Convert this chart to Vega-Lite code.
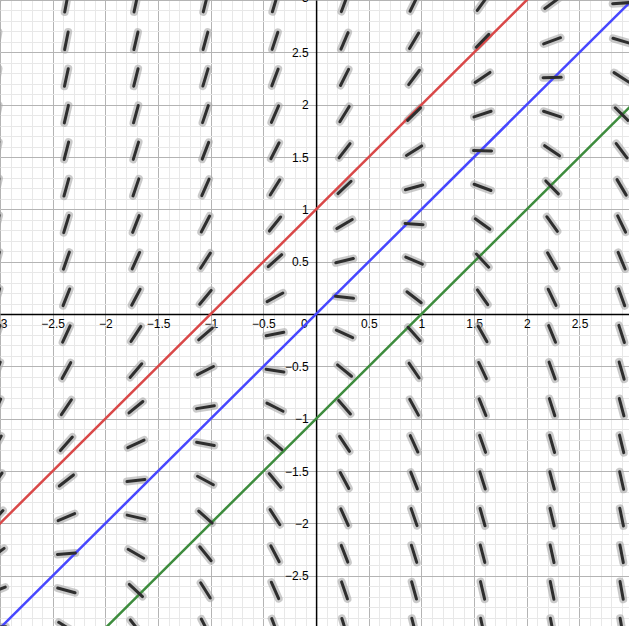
{
  "$schema": "https://vega.github.io/schema/vega-lite/v6.json",
  "width": 629,
  "height": 626,
  "padding": 0,
  "autosize": {"type": "none"},
  "background": "white",
  "config": {"view": {"stroke": null}, "font": "Liberation Sans"},
  "datasets": {
    "field": [
      {"x":-3.03,"y":2.97,"dir":80.5},{"x":-3.03,"y":2.61,"dir":79.9},{"x":-3.03,"y":2.26,"dir":79.3},{"x":-3.03,"y":1.91,"dir":78.6},{"x":-3.03,"y":1.56,"dir":77.7},{"x":-3.03,"y":1.21,"dir":76.7},{"x":-3.03,"y":0.86,"dir":75.6},{"x":-3.03,"y":0.51,"dir":74.2},{"x":-3.03,"y":0.16,"dir":72.6},{"x":-3.03,"y":-0.19,"dir":70.6},{"x":-3.03,"y":-0.54,"dir":68.1},{"x":-3.03,"y":-0.89,"dir":65.0},{"x":-3.03,"y":-1.24,"dir":60.8},{"x":-3.03,"y":-1.59,"dir":55.2},{"x":-3.03,"y":-1.94,"dir":47.5},{"x":-3.03,"y":-2.29,"dir":36.5},{"x":-3.03,"y":-2.64,"dir":21.3},{"x":-3.03,"y":-2.99,"dir":2.3},
      {"x":-2.37,"y":2.97,"dir":79.4},{"x":-2.37,"y":2.61,"dir":78.7},{"x":-2.37,"y":2.26,"dir":77.8},{"x":-2.37,"y":1.91,"dir":76.8},{"x":-2.37,"y":1.56,"dir":75.7},{"x":-2.37,"y":1.21,"dir":74.4},{"x":-2.37,"y":0.86,"dir":72.8},{"x":-2.37,"y":0.51,"dir":70.8},{"x":-2.37,"y":0.16,"dir":68.4},{"x":-2.37,"y":-0.19,"dir":65.4},{"x":-2.37,"y":-0.54,"dir":61.3},{"x":-2.37,"y":-0.89,"dir":56.0},{"x":-2.37,"y":-1.24,"dir":48.5},{"x":-2.37,"y":-1.59,"dir":38.0},{"x":-2.37,"y":-1.94,"dir":23.3},{"x":-2.37,"y":-2.29,"dir":4.6},{"x":-2.37,"y":-2.64,"dir":-15.1},{"x":-2.37,"y":-2.99,"dir":-31.8},
      {"x":-1.71,"y":2.97,"dir":77.9},{"x":-1.71,"y":2.61,"dir":77.0},{"x":-1.71,"y":2.26,"dir":75.9},{"x":-1.71,"y":1.91,"dir":74.6},{"x":-1.71,"y":1.56,"dir":73.0},{"x":-1.71,"y":1.21,"dir":71.1},{"x":-1.71,"y":0.86,"dir":68.7},{"x":-1.71,"y":0.51,"dir":65.8},{"x":-1.71,"y":0.16,"dir":61.9},{"x":-1.71,"y":-0.19,"dir":56.7},{"x":-1.71,"y":-0.54,"dir":49.5},{"x":-1.71,"y":-0.89,"dir":39.4},{"x":-1.71,"y":-1.24,"dir":25.2},{"x":-1.71,"y":-1.59,"dir":6.8},{"x":-1.71,"y":-1.94,"dir":-13.0},{"x":-1.71,"y":-2.29,"dir":-30.1},{"x":-1.71,"y":-2.64,"dir":-42.9},{"x":-1.71,"y":-2.99,"dir":-52.0},
      {"x":-1.05,"y":2.97,"dir":76.0},{"x":-1.05,"y":2.61,"dir":74.7},{"x":-1.05,"y":2.26,"dir":73.2},{"x":-1.05,"y":1.91,"dir":71.3},{"x":-1.05,"y":1.56,"dir":69.0},{"x":-1.05,"y":1.21,"dir":66.1},{"x":-1.05,"y":0.86,"dir":62.4},{"x":-1.05,"y":0.51,"dir":57.3},{"x":-1.05,"y":0.16,"dir":50.4},{"x":-1.05,"y":-0.19,"dir":40.7},{"x":-1.05,"y":-0.54,"dir":27.0},{"x":-1.05,"y":-0.89,"dir":9.1},{"x":-1.05,"y":-1.24,"dir":-10.8},{"x":-1.05,"y":-1.59,"dir":-28.4},{"x":-1.05,"y":-1.94,"dir":-41.7},{"x":-1.05,"y":-2.29,"dir":-51.1},{"x":-1.05,"y":-2.64,"dir":-57.8},{"x":-1.05,"y":-2.99,"dir":-62.7},
      {"x":-0.39,"y":2.97,"dir":73.4},{"x":-0.39,"y":2.61,"dir":71.6},{"x":-0.39,"y":2.26,"dir":69.3},{"x":-0.39,"y":1.91,"dir":66.5},{"x":-0.39,"y":1.56,"dir":62.9},{"x":-0.39,"y":1.21,"dir":58.0},{"x":-0.39,"y":0.86,"dir":51.3},{"x":-0.39,"y":0.51,"dir":42.0},{"x":-0.39,"y":0.16,"dir":28.8},{"x":-0.39,"y":-0.19,"dir":11.3},{"x":-0.39,"y":-0.54,"dir":-8.5},{"x":-0.39,"y":-0.89,"dir":-26.6},{"x":-0.39,"y":-1.24,"dir":-40.4},{"x":-0.39,"y":-1.59,"dir":-50.2},{"x":-0.39,"y":-1.94,"dir":-57.2},{"x":-0.39,"y":-2.29,"dir":-62.2},{"x":-0.39,"y":-2.64,"dir":-66.0},{"x":-0.39,"y":-2.99,"dir":-69.0},
      {"x":0.27,"y":2.97,"dir":69.7},{"x":0.27,"y":2.61,"dir":66.9},{"x":0.27,"y":2.26,"dir":63.3},{"x":0.27,"y":1.91,"dir":58.6},{"x":0.27,"y":1.56,"dir":52.2},{"x":0.27,"y":1.21,"dir":43.2},{"x":0.27,"y":0.86,"dir":30.5},{"x":0.27,"y":0.51,"dir":13.5},{"x":0.27,"y":0.16,"dir":-6.3},{"x":0.27,"y":-0.19,"dir":-24.7},{"x":0.27,"y":-0.54,"dir":-39.0},{"x":0.27,"y":-0.89,"dir":-49.2},{"x":0.27,"y":-1.24,"dir":-56.5},{"x":0.27,"y":-1.59,"dir":-61.7},{"x":0.27,"y":-1.94,"dir":-65.7},{"x":0.27,"y":-2.29,"dir":-68.7},{"x":0.27,"y":-2.64,"dir":-71.0},{"x":0.27,"y":-2.99,"dir":-72.9},
      {"x":0.93,"y":2.97,"dir":63.9},{"x":0.93,"y":2.61,"dir":59.2},{"x":0.93,"y":2.26,"dir":53.1},{"x":0.93,"y":1.91,"dir":44.4},{"x":0.93,"y":1.56,"dir":32.2},{"x":0.93,"y":1.21,"dir":15.6},{"x":0.93,"y":0.86,"dir":-4.0},{"x":0.93,"y":0.51,"dir":-22.8},{"x":0.93,"y":0.16,"dir":-37.6},{"x":0.93,"y":-0.19,"dir":-48.2},{"x":0.93,"y":-0.54,"dir":-55.8},{"x":0.93,"y":-0.89,"dir":-61.2},{"x":0.93,"y":-1.24,"dir":-65.3},{"x":0.93,"y":-1.59,"dir":-68.4},{"x":0.93,"y":-1.94,"dir":-70.8},{"x":0.93,"y":-2.29,"dir":-72.7},{"x":0.93,"y":-2.64,"dir":-74.4},{"x":0.93,"y":-2.99,"dir":-75.7},
      {"x":1.58,"y":2.97,"dir":54.3},{"x":1.58,"y":2.61,"dir":45.8},{"x":1.58,"y":2.26,"dir":34.2},{"x":1.58,"y":1.91,"dir":18.3},{"x":1.58,"y":1.56,"dir":-1.1},{"x":1.58,"y":1.21,"dir":-20.3},{"x":1.58,"y":0.86,"dir":-35.8},{"x":1.58,"y":0.51,"dir":-46.9},{"x":1.58,"y":0.16,"dir":-54.8},{"x":1.58,"y":-0.19,"dir":-60.5},{"x":1.58,"y":-0.54,"dir":-64.7},{"x":1.58,"y":-0.89,"dir":-68.0},{"x":1.58,"y":-1.24,"dir":-70.5},{"x":1.58,"y":-1.59,"dir":-72.5},{"x":1.58,"y":-1.94,"dir":-74.1},{"x":1.58,"y":-2.29,"dir":-75.5},{"x":1.58,"y":-2.64,"dir":-76.7},{"x":1.58,"y":-2.99,"dir":-77.7},
      {"x":2.24,"y":2.97,"dir":36.1},{"x":2.24,"y":2.61,"dir":20.3},{"x":2.24,"y":2.26,"dir":1.1},{"x":2.24,"y":1.91,"dir":-18.3},{"x":2.24,"y":1.56,"dir":-34.2},{"x":2.24,"y":1.21,"dir":-45.8},{"x":2.24,"y":0.86,"dir":-54.1},{"x":2.24,"y":0.51,"dir":-60.0},{"x":2.24,"y":0.16,"dir":-64.3},{"x":2.24,"y":-0.19,"dir":-67.6},{"x":2.24,"y":-0.54,"dir":-70.2},{"x":2.24,"y":-0.89,"dir":-72.3},{"x":2.24,"y":-1.24,"dir":-74.0},{"x":2.24,"y":-1.59,"dir":-75.4},{"x":2.24,"y":-1.94,"dir":-76.5},{"x":2.24,"y":-2.29,"dir":-77.6},{"x":2.24,"y":-2.64,"dir":-78.4},{"x":2.24,"y":-2.99,"dir":-79.2},
      {"x":2.9,"y":2.97,"dir":4.0},{"x":2.9,"y":2.61,"dir":-16.2},{"x":2.9,"y":2.26,"dir":-32.6},{"x":2.9,"y":1.91,"dir":-44.7},{"x":2.9,"y":1.56,"dir":-53.3},{"x":2.9,"y":1.21,"dir":-59.4},{"x":2.9,"y":0.86,"dir":-63.9},{"x":2.9,"y":0.51,"dir":-67.3},{"x":2.9,"y":0.16,"dir":-70.0},{"x":2.9,"y":-0.19,"dir":-72.1},{"x":2.9,"y":-0.54,"dir":-73.8},{"x":2.9,"y":-0.89,"dir":-75.2},{"x":2.9,"y":-1.24,"dir":-76.4},{"x":2.9,"y":-1.59,"dir":-77.4},{"x":2.9,"y":-1.94,"dir":-78.3},{"x":2.9,"y":-2.29,"dir":-79.1},{"x":2.9,"y":-2.64,"dir":-79.8},{"x":2.9,"y":-2.99,"dir":-80.4}
    ],
    "lines": [
      {"curve":"y = x + 1","x":-3.2,"y":-2.2},{"curve":"y = x + 1","x":3.2,"y":4.2},
      {"curve":"y = x","x":-3.2,"y":-3.2},{"curve":"y = x","x":3.2,"y":3.2},
      {"curve":"y = x − 1","x":-3.2,"y":-4.2},{"curve":"y = x − 1","x":3.2,"y":2.2}
    ]
  },
  "resolve": {"axis": {"x": "independent", "y": "independent"}},
  "layer": [
    {
      "data": {"name": "field"},
      "mark": {"type": "point", "shape": "M-1,0L1,0", "size": 324, "filled": false, "strokeWidth": 8, "strokeCap": "round", "color": "#a8a8a8", "opacity": 0.6},
      "encoding": {
        "x": {"field": "x", "type": "quantitative", "scale": {"domain": [-3, 2.97], "nice": false, "zero": false},
              "axis": {"orient": "bottom", "tickCount": 60, "grid": true, "gridColor": "#e8e8e8", "gridWidth": 1, "labels": false, "ticks": false, "domain": false, "title": null}},
        "y": {"field": "y", "type": "quantitative", "scale": {"domain": [-2.98, 3.0], "nice": false, "zero": false},
              "axis": {"orient": "left", "tickCount": 60, "grid": true, "gridColor": "#e8e8e8", "gridWidth": 1, "labels": false, "ticks": false, "domain": false, "title": null}},
        "angle": {"field": "dir", "type": "quantitative", "scale": {"domain": [-90, 90], "range": [90, -90], "nice": false, "zero": false}}
      }
    },
    {
      "data": {"name": "lines"},
      "mark": {"type": "line", "clip": true, "strokeWidth": 2.5},
      "encoding": {
        "x": {"field": "x", "type": "quantitative", "scale": {"domain": [-3, 2.97], "nice": false, "zero": false},
              "axis": {"orient": "bottom", "offset": -312, "values": [-3, -2.5, -2, -1.5, -1, -0.5, 0, 0.5, 1, 1.5, 2, 2.5, 3], "format": "~g",
                       "grid": true, "gridColor": "#b4b4b4", "gridWidth": 1, "ticks": false, "domain": true, "domainColor": "#000000", "domainWidth": 1.5,
                       "labelPadding": 4, "labelFontSize": 12, "labelColor": "#000000", "labelFlush": false, "labelOverlap": false, "title": null,
                       "labelAlign": {"condition": {"test": "datum.value === 0", "value": "right"}, "value": "center"},
                       "labelOffset": {"condition": {"test": "datum.value === 0", "value": -9}, "value": 0}}},
        "y": {"field": "y", "type": "quantitative", "scale": {"domain": [-2.98, 3.0], "nice": false, "zero": false},
              "axis": {"orient": "left", "offset": -316.1, "values": [-3, -2.5, -2, -1.5, -1, -0.5, 0.5, 1, 1.5, 2, 2.5, 3], "format": "~g",
                       "grid": true, "gridColor": "#b4b4b4", "gridWidth": 1, "ticks": false, "domain": true, "domainColor": "#000000", "domainWidth": 1.5,
                       "labelPadding": 8, "labelFontSize": 12, "labelColor": "#000000", "labelFlush": false, "labelOverlap": false, "title": null,
                       "labelOffset": {"condition": {"test": "datum.value === 3", "value": -3}, "value": 0}}},
        "color": {"field": "curve", "type": "nominal", "scale": {"domain": ["y = x + 1", "y = x", "y = x − 1"], "range": ["#d94848", "#4747ff", "#3d8c3d"]}, "legend": null}
      }
    },
    {
      "data": {"name": "field"},
      "mark": {"type": "point", "shape": "M-1,0L1,0", "size": 324, "filled": false, "strokeWidth": 3, "strokeCap": "round", "color": "#2e2e2e", "opacity": 1},
      "encoding": {
        "x": {"field": "x", "type": "quantitative", "scale": {"domain": [-3, 2.97], "nice": false, "zero": false}, "axis": null},
        "y": {"field": "y", "type": "quantitative", "scale": {"domain": [-2.98, 3.0], "nice": false, "zero": false}, "axis": null},
        "angle": {"field": "dir", "type": "quantitative", "scale": {"domain": [-90, 90], "range": [90, -90], "nice": false, "zero": false}}
      }
    }
  ]
}
